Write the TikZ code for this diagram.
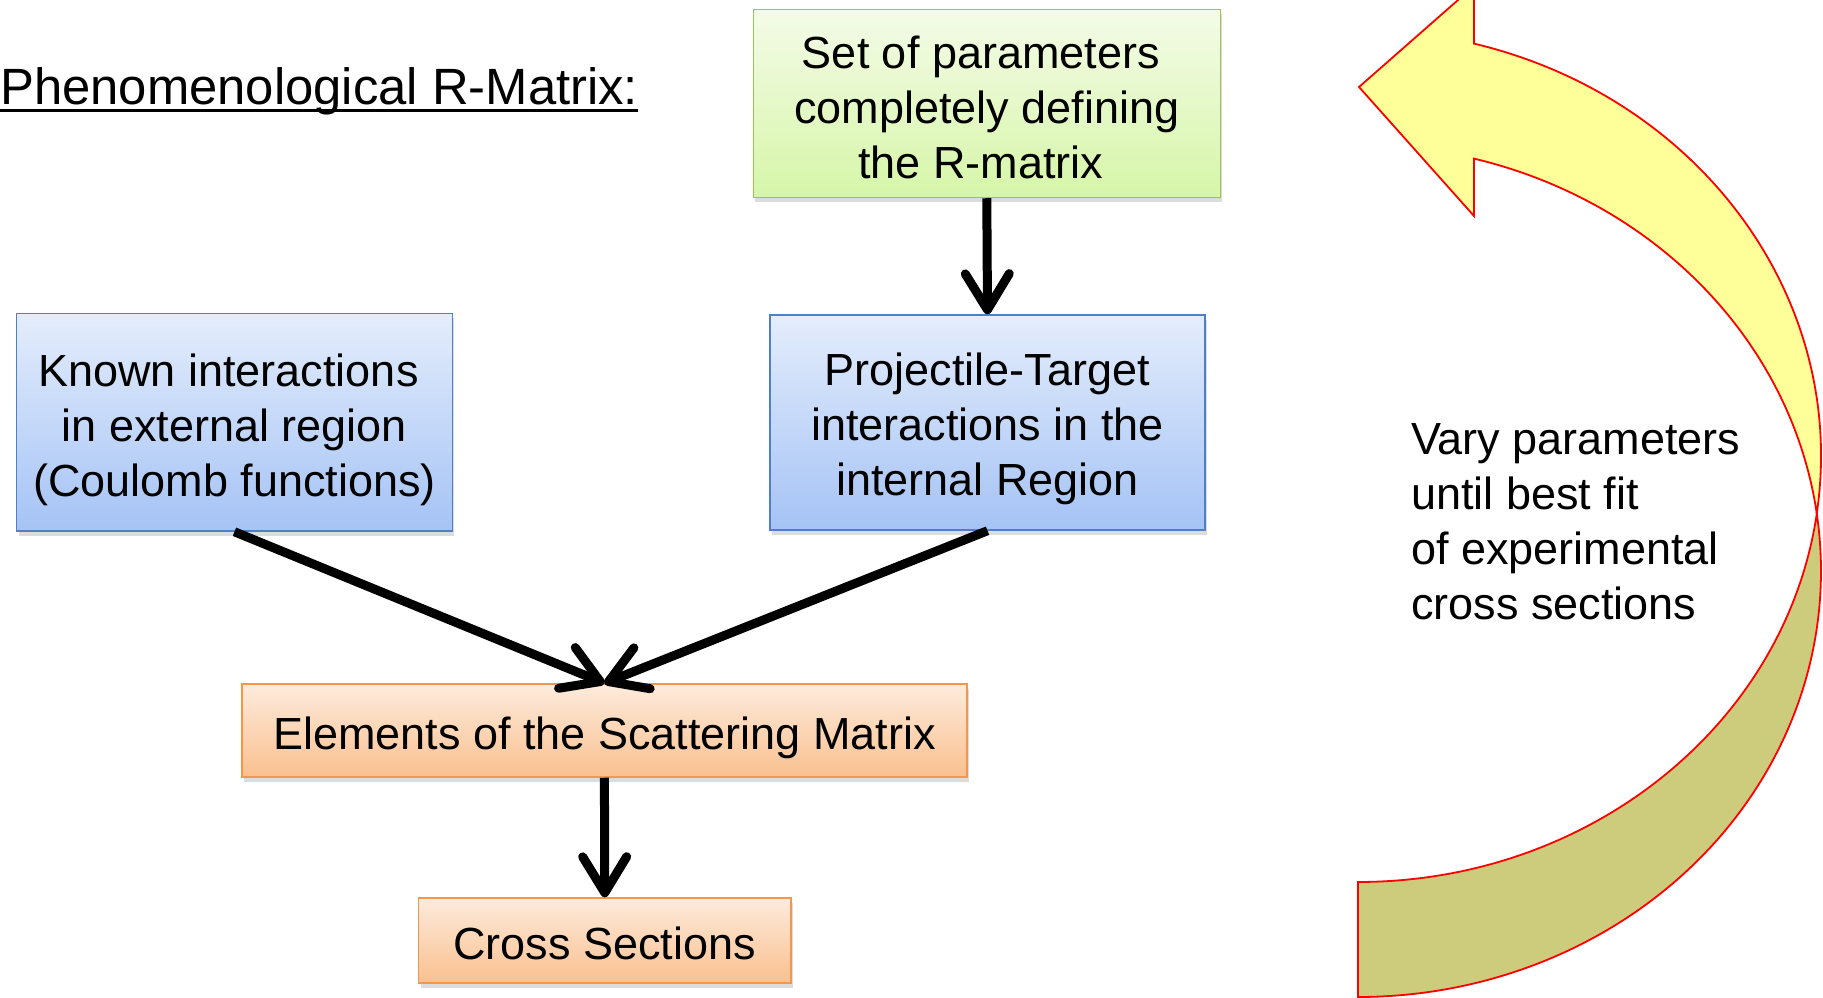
\documentclass[tikz,border=0pt]{standalone}
\usepackage{fontspec}
\usepackage{graphicx}
\setmainfont{Liberation Sans}
\usetikzlibrary{arrows.meta,shadows}
\definecolor{bluetop}{RGB}{228,237,252}
\definecolor{bluebot}{RGB}{165,195,245}
\definecolor{blueborder}{RGB}{80,128,195}
\definecolor{greentop}{RGB}{244,251,232}
\definecolor{greenbot}{RGB}{214,246,168}
\definecolor{greenborder}{RGB}{155,195,90}
\definecolor{orangetop}{RGB}{253,235,220}
\definecolor{orangebot}{RGB}{250,192,143}
\definecolor{orangeborder}{RGB}{247,150,70}
\definecolor{arrowyellow}{RGB}{255,255,153}
\definecolor{arrowolive}{RGB}{204,204,124}
\newcommand\toplift[1]{\rule{0pt}{#1}}
\begin{document}
\begin{tikzpicture}[x=1pt,y=1pt,
  box/.style={draw, line width=1.5pt, inner sep=0pt, align=center,
    font=\fontsize{45}{55}\selectfont,
    drop shadow={shadow xshift=2pt,shadow yshift=-5pt,opacity=0.28}},
  bluebox/.style={box, draw=blueborder, top color=bluetop, bottom color=bluebot},
  greenbox/.style={box, draw=greenborder, top color=greentop, bottom color=greenbot},
  orangebox/.style={box, draw=orangeborder, top color=orangetop, bottom color=orangebot},
  flow/.style={line width=9pt, -{Straight Barb[length=36pt,width=44pt,round]}},
  bigarrow/.style={draw=red, line width=1.8pt, line join=miter}
]
\useasboundingbox (0,0) rectangle (1823,997);
\begin{scope}
\clip (0,0) rectangle (1823,997);
% lower (back) band of the curved arrow
\path[bigarrow, fill=arrowolive]
  (1816.8,483.5) arc[start angle=-7.76, end angle=-90, x radius=463pt, y radius=426pt]
  -- (1358,0) arc[start angle=-90, end angle=7.76, x radius=463pt, y radius=426pt]
  -- cycle;
% upper (front) band with arrow head
\path[bigarrow, fill=arrowyellow]
  (1474,953.4) arc[start angle=75.49, end angle=-7.76, x radius=463pt, y radius=426pt]
  arc[start angle=7.76, end angle=75.49, x radius=463pt, y radius=426pt]
  -- (1474,781) -- (1359,910) -- (1474,1011) -- cycle;
\end{scope}

% title
\node[anchor=base west, inner sep=0pt] (title) at (0,892)
  {\resizebox{638pt}{\height}{\fontsize{51}{60}\selectfont Phenomenological R-Matrix:}};
\draw[line width=3.5pt] ([yshift=-5.5pt]title.base west) -- ([yshift=-5.5pt]title.base east);

% boxes
\node[greenbox, minimum width=467pt, minimum height=188pt] (green) at (986.8,893.5)
  {\toplift{40pt}Set of parameters\hspace*{12pt}\\completely defining\\the R-matrix\hspace*{12pt}};
\node[bluebox, minimum width=435.6pt, minimum height=217.7pt] (known) at (234.5,574.8)
  {\toplift{47pt}Known interactions\hspace*{12pt}\\in external region\\(Coulomb functions)};
\node[bluebox, minimum width=435pt, minimum height=215pt] (proj) at (987.5,574.5)
  {\toplift{45pt}Projectile-Target\\interactions in the\\internal Region};
\node[orangebox, minimum width=725pt, minimum height=93pt] (elem) at (604.4,266.5)
  {\toplift{47pt}Elements of the Scattering Matrix};
\node[orangebox, minimum width=372.5pt, minimum height=85pt] (cross) at (604.8,56.5)
  {\toplift{38pt}Cross Sections};

% connectors
\draw[flow] (green.south) -- (proj.north);
\draw[flow] (known.south) -- (elem.north);
\draw[flow] (proj.south) -- (elem.north);
\draw[flow] (elem.south) -- (cross.north);

% loop label
\node[anchor=north west, inner sep=0pt, align=left, font=\fontsize{45}{55}\selectfont] (vary) at (1411,573.7)
  {Vary parameters\\until best fit\\of experimental\\cross sections};
\end{tikzpicture}
\end{document}
